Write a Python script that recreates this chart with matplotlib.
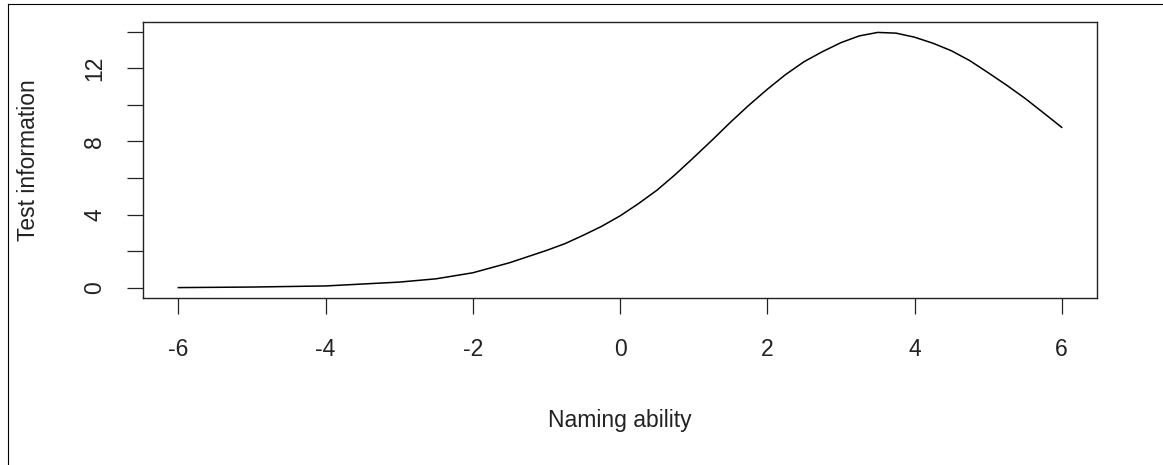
import numpy as np
import matplotlib
matplotlib.use("Agg")
import matplotlib.pyplot as plt
from matplotlib.lines import Line2D

# values
ability = [-6, -5, -4, -3, -2.5, -2, -1.5, -1, -0.75, -0.5, -0.25, 0, 0.25, 0.5, 0.75,
           1, 1.25, 1.5, 1.75, 2, 2.25, 2.5, 2.75, 3, 3.25, 3.5, 3.75, 4, 4.25, 4.5, 4.75,
           5, 5.25, 5.5, 5.75, 6]
information = [0.01, 0.04, 0.1, 0.31, 0.49, 0.82, 1.37, 2.04, 2.41, 2.87, 3.36, 3.93, 4.6, 5.33, 6.19,
               7.12, 8.07, 9.05, 9.98, 10.85, 11.66, 12.36, 12.91, 13.4, 13.77, 13.96, 13.92, 13.7, 13.37, 12.96, 12.42,
               11.76, 11.08, 10.36, 9.57, 8.77]

xticks = [-6, -4, -2, 0, 2, 4, 6]
yticks = [0, 2, 4, 6, 8, 10, 12, 14]
ylabels = ["0", "", "4", "", "8", "", "12", ""]

plt.rcParams['font.family'] = ['Liberation Sans', 'DejaVu Sans']

fig = plt.figure(figsize=(11.63, 4.65), dpi=100)
ax = fig.add_axes([0.123, 0.3591, 0.8203, 0.5936])

ax.plot(ability, information, color="black", lw=1.1)

ax.set_xlim(-6.48, 6.48)
ax.set_ylim(-0.56, 14.53)
ax.set_xticks(xticks)
ax.set_xticklabels([str(t) for t in xticks])
ax.set_yticks(yticks)
ax.set_yticklabels(ylabels, rotation=90, va="center")

for s in ax.spines.values():
    s.set_linewidth(1.0)
    s.set_color("#222222")
ax.tick_params(axis="both", direction="out", length=11.5, width=0.9,
               color="#222222", labelsize=16.5, labelcolor="#222222")
ax.tick_params(axis="x", pad=17)
ax.tick_params(axis="y", pad=15)

fig.text(29 / 1163, 1 - 160 / 465, "Test information", rotation=90,
         ha="center", va="center", fontsize=16.5, color="#222222")
fig.text(620 / 1163, 1 - 427 / 465, "Naming ability",
         ha="center", va="baseline", fontsize=16.5, color="#222222")

# outer frame lines (left and top)
fig.add_artist(Line2D([8 / 1163, 8 / 1163], [0, 1 - 4 / 465], color="black", lw=0.8))
fig.add_artist(Line2D([8 / 1163, 1], [1 - 4 / 465, 1 - 4 / 465], color="black", lw=0.8))

fig.savefig("out.png", dpi=100)
